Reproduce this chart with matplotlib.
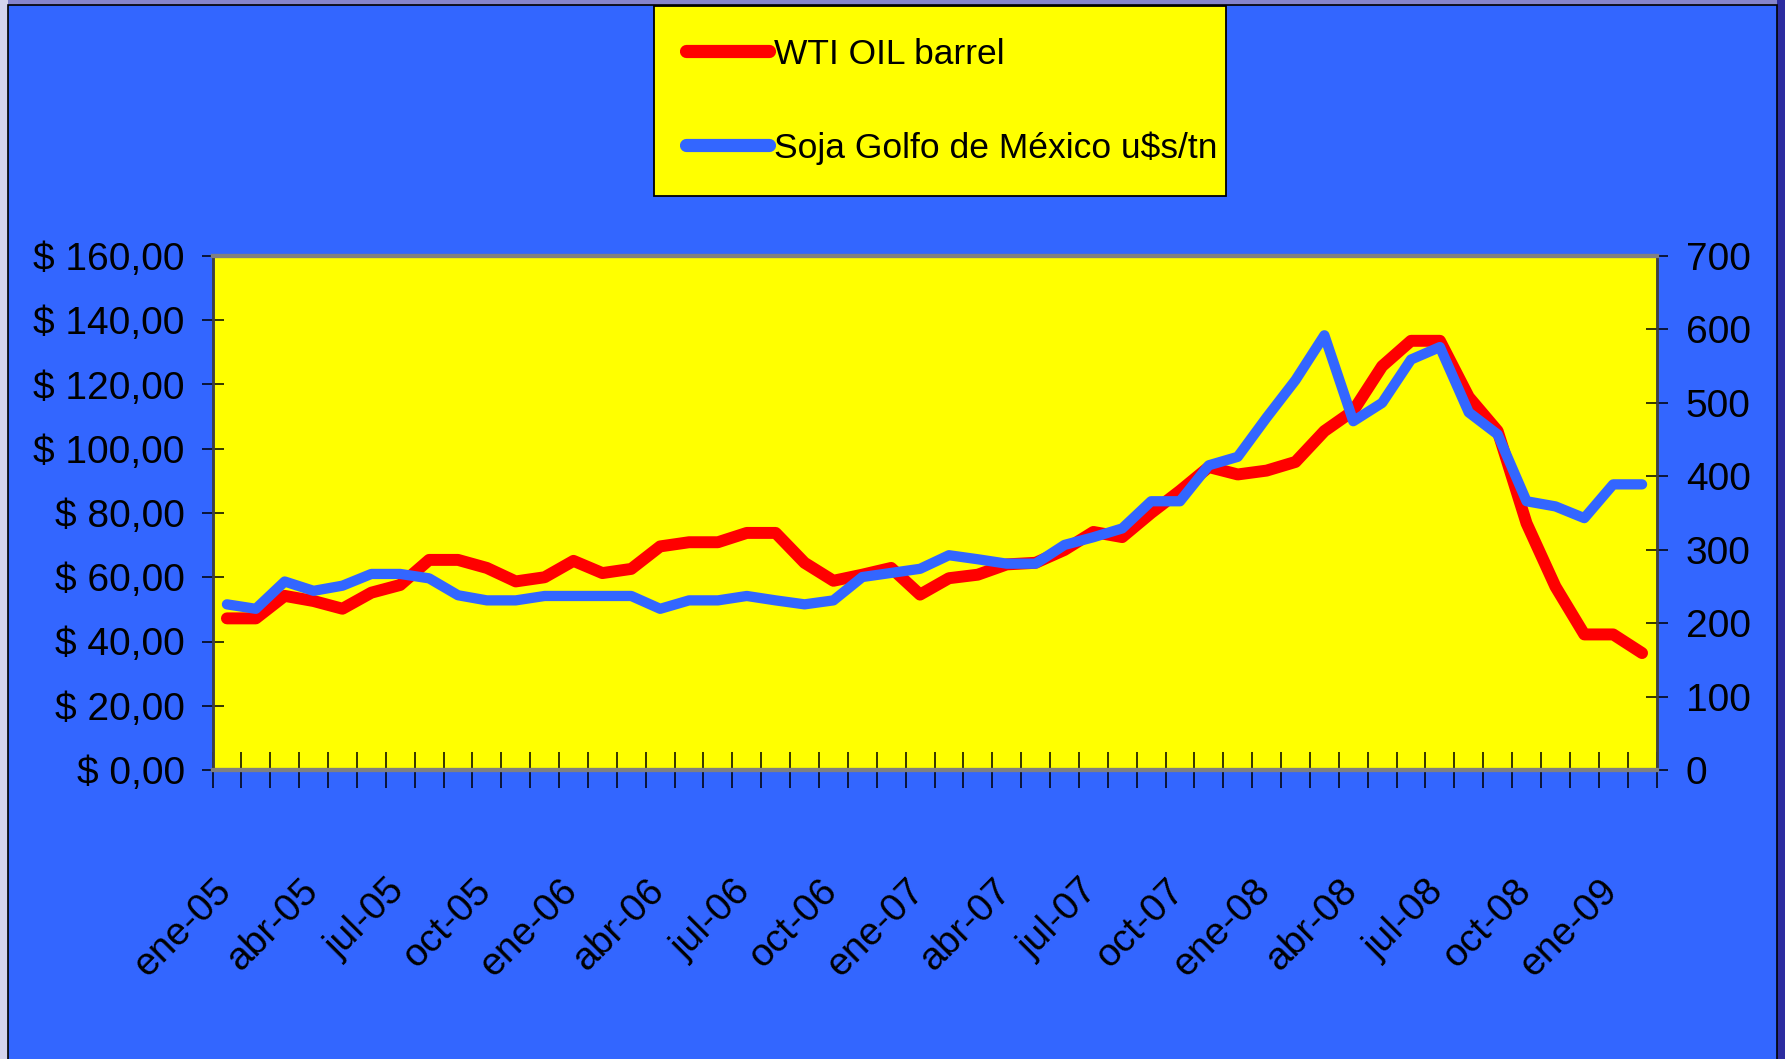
import numpy as np
import matplotlib.pyplot as plt
from matplotlib.patches import Rectangle

plt.rcParams['font.family'] = ['Liberation Sans', 'DejaVu Sans']

# monthly values, ene-05 .. feb-09
oil = [47.2, 47.2, 54.2, 52.6, 50.2, 55.2, 57.6, 65.4, 65.4, 62.9,
       58.7, 60.0, 65.1, 61.3, 62.6, 69.6, 70.9, 70.9, 73.8, 73.8,
       64.5, 58.9, 60.8, 62.9, 54.6, 59.7, 60.8, 64.0, 64.5, 68.5,
       74.1, 72.5, 80.0, 86.9, 94.3, 92.0, 93.2, 95.9, 105.5, 111.8,
       125.7, 133.6, 133.6, 116.1, 105.5, 76.8, 57.1, 42.2, 42.2, 36.4]
soy = [225.6, 219.5, 256.7, 244, 251, 267, 267, 261, 238, 231,
       231, 237, 237, 237, 237, 219.5, 231, 231, 237, 231,
       225.6, 231, 262.8, 268.4, 274, 292.5, 287, 281, 281, 306.5,
       317, 329, 366, 366, 415, 426.5, 480, 531, 592, 475,
       500, 559, 576, 487, 457, 366, 359, 343, 389, 389]
month_labels = ['ene-05', 'abr-05', 'jul-05', 'oct-05',
                'ene-06', 'abr-06', 'jul-06', 'oct-06',
                'ene-07', 'abr-07', 'jul-07', 'oct-07',
                'ene-08', 'abr-08', 'jul-08', 'oct-08', 'ene-09']
left_ticks = [0, 20, 40, 60, 80, 100, 120, 140, 160]
right_ticks = [0, 100, 200, 300, 400, 500, 600, 700]

W, H = 1785, 1059
fig = plt.figure(figsize=(W / 100, H / 100), dpi=100)
fig.patch.set_facecolor('#8585cc')

# slide edges and blue chart area
fig.add_artist(Rectangle((0, 0), 8 / W, 1, transform=fig.transFigure,
                         facecolor='#d4d4ee', edgecolor='none', zorder=0))
fig.add_artist(Rectangle((1777 / W, 0), 8 / W, 1, transform=fig.transFigure,
                         facecolor='#2c2ca0', edgecolor='none', zorder=0))
fig.add_artist(Rectangle((8 / W, -0.01), 1769 / W, (H - 5) / H + 0.01,
                         transform=fig.transFigure, facecolor='#3366ff',
                         edgecolor='black', lw=1.2, zorder=0))

ax = fig.add_axes([212.5 / W, (H - 770) / H, 1444 / W, 514 / H])
ax.set_facecolor('#ffff00')
x = np.arange(len(oil))

l1, = ax.plot(x, oil, color='#ff0000', lw=8.6, solid_capstyle='round',
              solid_joinstyle='round', label='WTI OIL barrel')
ax2 = ax.twinx()
l2, = ax2.plot(x, soy, color='#3366ff', lw=7.4, solid_capstyle='round',
               solid_joinstyle='round', label='Soja Golfo de México u$s/tn')

ax.set_xlim(-0.5, len(oil) - 0.5)
ax.set_ylim(0, 160)
ax2.set_ylim(0, 700)

ax.set_yticks(left_ticks)
ax.set_yticklabels(['$ ' + f'{v:.2f}'.replace('.', ',') for v in left_ticks])
ax2.set_yticks(right_ticks)
ax2.set_yticklabels([str(v) for v in right_ticks])

# tick marks sit between months; labels every third month (nudged so the
# rotated text ends on the month centre)
ax.set_xticks(np.arange(-0.5, len(oil), 1))
ax.set_xticks(x[::3] + 0.4, minor=True)
ax.set_xticklabels(month_labels, minor=True, rotation=45, ha='right', va='top')

ax.tick_params(axis='x', which='major', direction='inout', length=26, width=1.1,
               labelbottom=False)
ax.tick_params(axis='x', which='minor', length=0, pad=74, labelsize=28)
ax.tick_params(axis='y', direction='inout', length=16, width=1.1, pad=12, labelsize=28)
ax2.tick_params(axis='y', direction='inout', length=16, width=1.1, pad=13, labelsize=28)

for a in (ax, ax2):
    a.spines['top'].set_color('#808080')
    a.spines['top'].set_linewidth(3)
    a.spines['bottom'].set_color('#808080')
    a.spines['bottom'].set_linewidth(3)
    a.spines['left'].set_color('#404040')
    a.spines['left'].set_linewidth(1.8)
    a.spines['right'].set_color('#404040')
    a.spines['right'].set_linewidth(1.8)

leg = fig.legend([l1, l2], [l1.get_label(), l2.get_label()],
                 loc='upper left', bbox_to_anchor=(654 / W, (H - 193) / H, 572 / W, 187 / H),
                 mode='expand', borderaxespad=0, fontsize=25.5, handlelength=2.35,
                 handletextpad=0.15, labelspacing=1.7, borderpad=0.9,
                 fancybox=False, framealpha=1, facecolor='#ffff00', edgecolor='black')
leg.get_frame().set_linewidth(1.3)
for h in leg.legend_handles:
    h.set_linewidth(9.5)

fig.savefig('out.png', dpi=100, facecolor=fig.get_facecolor())
